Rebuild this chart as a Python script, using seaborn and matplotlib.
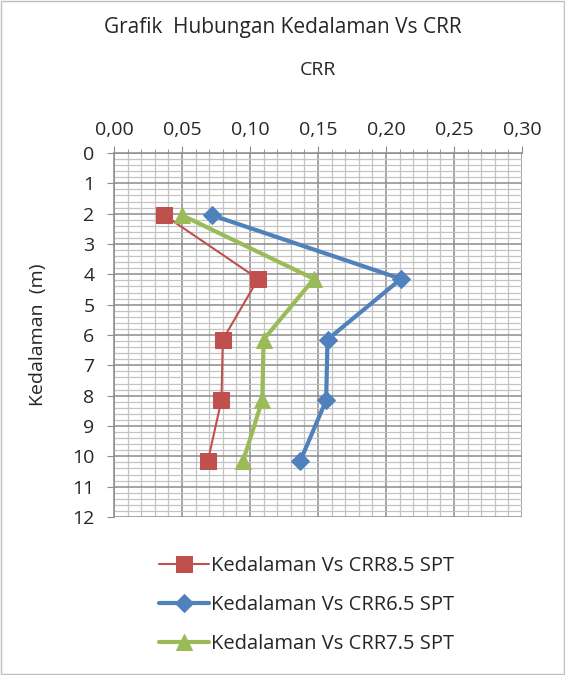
import matplotlib
matplotlib.use("Agg")
import matplotlib.pyplot as plt
import seaborn as sns
import pandas as pd
from matplotlib.ticker import MultipleLocator, FuncFormatter

depth = [2.05, 4.15, 6.15, 8.15, 10.15]
crr_85 = [0.037, 0.106, 0.080, 0.079, 0.069]
crr_65 = [0.072, 0.211, 0.157, 0.156, 0.137]
crr_75 = [0.050, 0.147, 0.110, 0.109, 0.095]
series_names = ["Kedalaman Vs CRR8.5 SPT", "Kedalaman Vs CRR6.5 SPT", "Kedalaman Vs CRR7.5 SPT"]
colors = ["#C0504D", "#4F81BD", "#9BBB59"]
markers = ["s", "D", "^"]

sns.set_style("white")
plt.rcParams['font.family'] = ['Open Sans', 'DejaVu Sans']

fig = plt.figure(figsize=(5.65, 6.75), dpi=100)
ax = fig.add_axes([114/565, 1-517/675, 408/565, 364/675])

styles = [
    dict(lw=1.5, ms=11),
    dict(lw=3.0, ms=9),
    dict(lw=3.0, ms=12),
]
for name, vals, c, m, st in zip(series_names, [crr_85, crr_65, crr_75], colors, markers, styles):
    df = pd.DataFrame({"CRR": vals, "depth": depth})
    sns.lineplot(data=df, x="CRR", y="depth", sort=False, estimator=None, ax=ax,
                 color=c, marker=m, markersize=st["ms"], linewidth=st["lw"],
                 markeredgecolor=c, label=name)

ax.set_xlim(0, 0.30)
ax.set_ylim(12, 0)
ax.xaxis.set_major_locator(MultipleLocator(0.05))
ax.xaxis.set_minor_locator(MultipleLocator(0.01))
ax.yaxis.set_major_locator(MultipleLocator(1))
ax.yaxis.set_minor_locator(MultipleLocator(0.2))
ax.xaxis.set_major_formatter(FuncFormatter(lambda v, p: f"{v:.2f}".replace(".", ",")))
ax.xaxis.tick_top()
ax.xaxis.set_label_position("top")

ax.grid(which="minor", color="#c4c4c4", linewidth=0.9)
ax.grid(which="major", color="#8c8c8c", linewidth=1.1)
ax.set_axisbelow(True)
for s in ["top", "left"]:
    ax.spines[s].set_color("#8c8c8c")
    ax.spines[s].set_linewidth(1.1)
for s in ["bottom", "right"]:
    ax.spines[s].set_visible(False)

ax.tick_params(axis="x", which="major", top=True, bottom=False, length=5, color="#8c8c8c",
               labelsize=14, pad=5)
ax.tick_params(axis="x", which="minor", top=True, bottom=False, length=3, color="#8c8c8c")
ax.tick_params(axis="y", which="major", left=True, length=5, color="#8c8c8c", labelsize=14, pad=9)
ax.tick_params(axis="y", which="minor", left=True, length=0)

ax.set_xlabel("CRR", fontsize=14, labelpad=33)
ax.set_ylabel("Kedalaman  (m)", fontsize=14, labelpad=18)
fig.text(283/565, 1-27/675, "Grafik  Hubungan Kedalaman Vs CRR", ha="center", va="center", fontsize=15)

leg = ax.legend(loc="upper left", bbox_to_anchor=(141/565, 1-538/675), bbox_transform=fig.transFigure,
                frameon=False, fontsize=14.5, handlelength=2.5, labelspacing=0.95, handletextpad=0.1)

fig.patches.append(plt.Rectangle((0.002, 0.002), 0.996, 0.996, transform=fig.transFigure,
                                 fill=False, edgecolor="#bfbfbf", linewidth=1))
fig.savefig("out.png", dpi=100)
